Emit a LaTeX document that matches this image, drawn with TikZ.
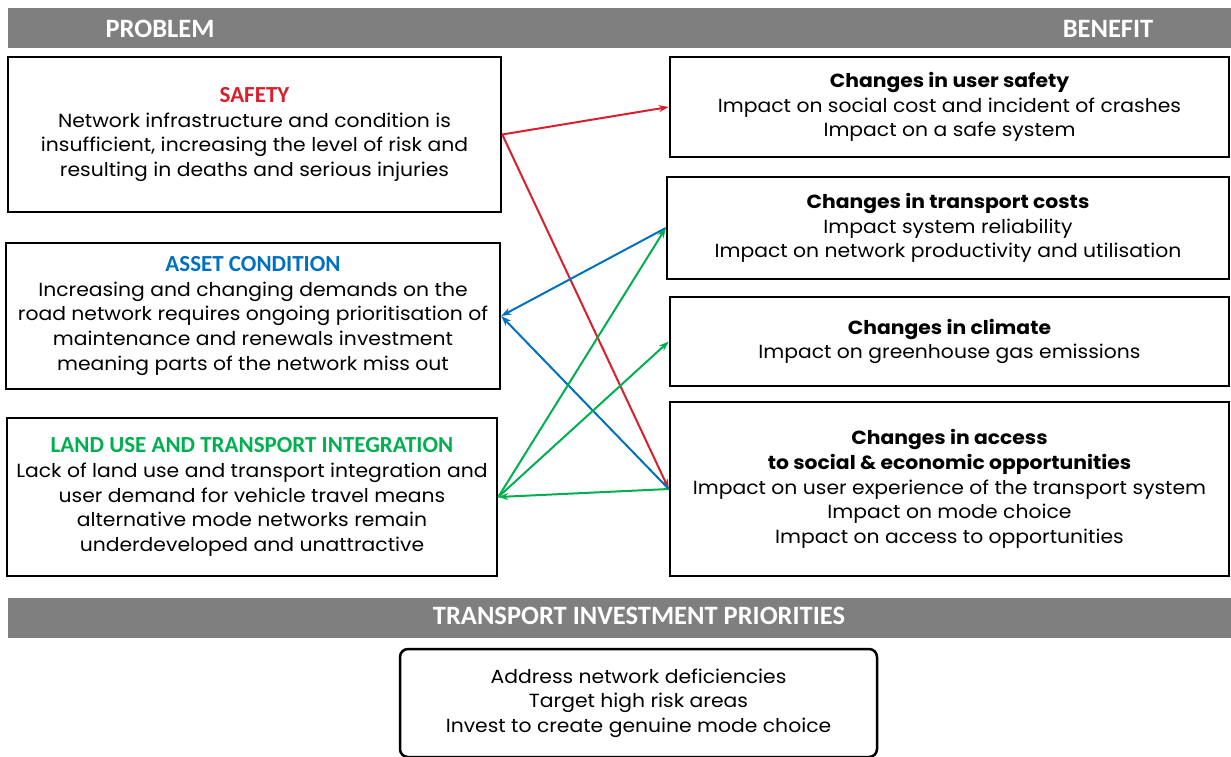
\documentclass[tikz,border=0pt]{standalone}
\usepackage{fontspec}
\setmainfont{Poppins}[FakeStretch = 1.07]
\newfontfamily\calibri{Carlito}
\usetikzlibrary{positioning,arrows.meta}
\definecolor{barGray}{HTML}{7F7F7F}
\definecolor{safeRed}{HTML}{DA1F2C}
\definecolor{assetBlue}{HTML}{0070C0}
\definecolor{landGreen}{HTML}{00B050}
\tikzset{%
  arrow/.style    = { -{Stealth[length = 10pt, width = 7pt]}, line width = 2pt, draw = #1 },
  bar/.style      = { fill = barGray, minimum width = 1223pt, minimum height = 40pt, inner sep = 0pt },
  bartext/.style  = { text = white, inner sep = 0pt, font = \calibri\bfseries\fontsize{26.5}{26.5}\selectfont },
  tbox/.style     = { draw = black, line width = 2.5pt, align = center, inner sep = 0pt,
                      font = \fontsize{19}{24.7}\selectfont },
  leaf/.style     = { tbox, rounded corners = 8pt }
}
\newcommand{\ptitle}[2]{{\calibri\bfseries\fontsize{23}{24.7}\selectfont\color{#1}#2}}

\begin{document}
\begin{tikzpicture}[x = 1pt, y = -1pt]
  \useasboundingbox (0,0) rectangle (1231,756);
  % headers
  \node(top)[bar] at (619.5,28) {};
  \node(problem)[bartext] at (160,29) {PROBLEM};
  \node(benefit)[bartext] at (1108,29) {BENEFIT};
  \node(bottom)[bar] at (619.5,618) {};
  \node(priorities)[bartext] at (639,616) {TRANSPORT INVESTMENT PRIORITIES};
  % problems
  \node(safety)[tbox, minimum width = 493pt, minimum height = 155pt] at (254.5,134.5)
    {\ptitle{safeRed}{SAFETY}\\ Network infrastructure and condition is\\
     insufficient, increasing the level of risk and\\ resulting in deaths and serious injuries};
  \node(asset)[tbox, minimum width = 494pt, minimum height = 146pt] at (253,316)
    {\ptitle{assetBlue}{ASSET CONDITION}\\ Increasing and changing demands on the\\
     road network requires ongoing prioritisation of\\ maintenance and renewals investment\\
     meaning parts of the network miss out};
  \node(land)[tbox, minimum width = 490pt, minimum height = 158pt] at (252,497)
    {\ptitle{landGreen}{LAND USE AND TRANSPORT INTEGRATION}\\ Lack of land use and transport integration and\\
     user demand for vehicle travel means\\ alternative mode networks remain\\ underdeveloped and unattractive};
  % benefits
  \node(usafe)[tbox, minimum width = 559pt, minimum height = 100pt] at (949.5,107)
    {\textbf{Changes in user safety}\\ Impact on social cost and incident of crashes\\ Impact on a safe system};
  \node(costs)[tbox, minimum width = 562pt, minimum height = 102pt] at (948,228)
    {\textbf{Changes in transport costs}\\ Impact system reliability\\ Impact on network productivity and utilisation};
  \node(climate)[tbox, minimum width = 559pt, minimum height = 89pt] at (949.5,341.5)
    {\textbf{Changes in climate}\\ Impact on greenhouse gas emissions};
  \node(access)[tbox, minimum width = 559pt, minimum height = 174pt] at (949.5,489)
    {\textbf{Changes in access}\\ \textbf{to social \& economic opportunities}\\
     Impact on user experience of the transport system\\ Impact on mode choice\\ Impact on access to opportunities};
  % priorities
  \node(invest)[leaf, minimum width = 477pt, minimum height = 108pt] at (638.5,703)
    {Address network deficiencies\\ Target high risk areas\\ Invest to create genuine mode choice};
  % links
  \draw[arrow=safeRed] (safety.east) -- (usafe.west);
  \draw[arrow=safeRed] (safety.east) -- (access.west);
  \draw[arrow=assetBlue] (costs.west) -- (asset.east);
  \draw[arrow=assetBlue] (access.west) -- (asset.east);
  \draw[arrow=landGreen] (land.east) -- (costs.west);
  \draw[arrow=landGreen] (land.east) -- (climate.west);
  \draw[arrow=landGreen] (access.west) -- (land.east);
\end{tikzpicture}
\end{document}
